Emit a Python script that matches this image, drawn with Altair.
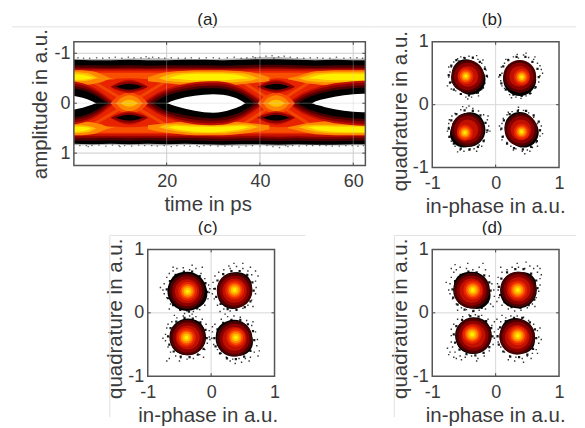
import altair as alt
import pandas as pd

FONT = "Liberation Sans"
INK = "#3a3a3a"
COL = dict(black="#000000", dark="#4a0000", maroon="#8a0000", crim="#c01000", red="#e82400",
           hot="#f85000", orange="#ff8800", amber="#ffc000", yellow="#fff000", pale="#ffff70")

# ---------- panel (a): eye diagram density contours ----------
RAIL_T = [0, 4, 8, 12, 16, 20, 24, 28, 32, 36, 40, 44, 48, 52, 56, 60, 63]
HAZE_UP = [-.89,-.885,-.89,-.895,-.90,-.895,-.89,-.885,-.89,-.90,-.92,-.925,-.90,-.89,-.895,-.89,-.895]
HAZE_UP_IN = [-.86,-.86,-.86,-.86,-.86,-.86,-.86,-.86,-.86,-.86,-.87,-.87,-.86,-.86,-.86,-.86,-.86]
HAZE_LOW_IN = [.80,.80,.80,.80,.80,.80,.80,.80,.80,.80,.80,.80,.80,.80,.80,.80,.80]
HAZE_LOW = [.835,.84,.83,.84,.84,.845,.835,.84,.85,.85,.84,.86,.84,.84,.845,.84,.845]
RAILS = [
    ("black", [-.87,-.86,-.86,-.87,-.86,-.86,-.87,-.87,-.86,-.87,-.88,-.88,-.87,-.86,-.87,-.86,-.86],
              [.81,.82,.81,.82,.81,.82,.81,.82,.83,.82,.82,.83,.82,.83,.83,.82,.82]),
    ("dark",  [-.76,-.76,-.75,-.76,-.75,-.76,-.76,-.76,-.75,-.76,-.77,-.77,-.76,-.75,-.76,-.76,-.76],
              [.75,.75,.74,.75,.74,.75,.74,.75,.76,.75,.75,.76,.75,.76,.76,.75,.75]),
    ("maroon",[-.71,-.71,-.70,-.71,-.70,-.71,-.71,-.71,-.70,-.71,-.72,-.72,-.71,-.70,-.71,-.71,-.71],
              [.70,.70,.69,.70,.69,.70,.69,.70,.71,.70,.70,.71,.70,.71,.71,.70,.70]),
    ("crim",  [-.68,-.68,-.68,-.68,-.68,-.68,-.68,-.68,-.68,-.68,-.69,-.69,-.68,-.68,-.68,-.68,-.68],
              [.66,.66,.66,.66,.66,.66,.66,.66,.67,.66,.66,.67,.66,.67,.67,.66,.66]),
    ("red",   [-.65,-.65,-.65,-.65,-.65,-.65,-.65,-.65,-.65,-.65,-.65,-.65,-.65,-.65,-.65,-.65,-.65],
              [.62,.62,.62,.62,.62,.62,.62,.62,.62,.62,.62,.62,.62,.62,.62,.62,.62]),
]
BAND_UP = [-.61,-.61,-.61,-.61,-.61,-.61,-.61,-.61,-.61,-.61,-.61,-.61,-.61,-.61,-.61,-.61,-.61]
BAND_UP_IN = [-.40,-.44,-.48,-.50,-.48,-.44,-.40,-.40,-.40,-.40,-.44,-.50,-.46,-.42,-.40,-.40,-.40]
BAND_LOW_IN = [.40,.44,.46,.48,.46,.42,.40,.40,.40,.40,.44,.48,.46,.42,.40,.40,.40]
BAND_LOW = [.59,.59,.59,.59,.59,.59,.59,.59,.59,.59,.59,.59,.59,.59,.59,.59,.59]

# faint crossing traces (time, amplitude)
TRACE_A_T = [3, 12, 21]
TRACE_B_T = [35, 43.5, 52]
TRACE_DOWN = [-.50, 0, .50]
TRACE_UP = [.50, 0, -.50]

CRES_L_T = [0, 1, 2, 3, 4, 5, 6, 7, 8, 9]
CRES_M_T = [16, 18, 20, 22, 24, 26, 28, 30, 32, 34, 36, 38, 40, 42]
CRES_R_T = [46, 48, 50, 52, 54, 56, 58, 60, 62, 63]
CRESCENTS = [
    ("orange", CRES_M_T, [-.52,-.58,-.62,-.64,-.65,-.66,-.66,-.66,-.66,-.65,-.64,-.62,-.58,-.52],
                         [-.44,-.42,-.40,-.38,-.36,-.35,-.35,-.35,-.35,-.36,-.38,-.40,-.42,-.44]),
    ("amber",  CRES_M_T, [-.50,-.50,-.56,-.60,-.61,-.62,-.62,-.62,-.62,-.61,-.60,-.56,-.50,-.50],
                         [-.50,-.50,-.45,-.43,-.42,-.42,-.42,-.42,-.42,-.42,-.43,-.45,-.50,-.50]),
    ("yellow", CRES_M_T, [-.50,-.50,-.50,-.55,-.58,-.59,-.59,-.59,-.59,-.58,-.55,-.50,-.50,-.50],
                         [-.50,-.50,-.50,-.49,-.47,-.46,-.46,-.46,-.46,-.47,-.49,-.50,-.50,-.50]),
    ("orange", CRES_M_T, [.44,.42,.40,.38,.36,.35,.35,.35,.35,.36,.38,.40,.42,.44],
                         [.52,.56,.59,.61,.63,.64,.64,.64,.64,.63,.61,.59,.56,.52]),
    ("amber",  CRES_M_T, [.48,.48,.43,.42,.43,.44,.44,.44,.44,.43,.42,.43,.48,.48],
                         [.48,.48,.52,.56,.58,.60,.60,.60,.60,.58,.56,.52,.48,.48]),
    ("yellow", CRES_M_T, [.48,.48,.48,.45,.46,.47,.47,.47,.47,.46,.45,.48,.48,.48],
                         [.48,.48,.48,.52,.55,.57,.58,.58,.57,.55,.52,.48,.48,.48]),
    ("orange", CRES_L_T, [-.66,-.66,-.66,-.65,-.64,-.62,-.58,-.54,-.50,-.48],
                         [-.35,-.35,-.36,-.37,-.38,-.40,-.42,-.46,-.48,-.48]),
    ("amber",  CRES_L_T, [-.62,-.62,-.61,-.60,-.57,-.52,-.50,-.50,-.50,-.50],
                         [-.44,-.44,-.44,-.45,-.47,-.50,-.50,-.50,-.50,-.50]),
    ("yellow", CRES_L_T, [-.58,-.58,-.57,-.55,-.52,-.50,-.50,-.50,-.50,-.50],
                         [-.47,-.47,-.47,-.48,-.50,-.50,-.50,-.50,-.50,-.50]),
    ("orange", CRES_L_T, [.35,.35,.36,.37,.38,.40,.42,.46,.48,.48],
                         [.64,.64,.64,.63,.62,.60,.56,.52,.50,.48]),
    ("amber",  CRES_L_T, [.44,.44,.44,.45,.47,.50,.50,.50,.50,.50],
                         [.60,.60,.59,.58,.55,.50,.50,.50,.50,.50]),
    ("yellow", CRES_L_T, [.47,.47,.47,.48,.50,.50,.50,.50,.50,.50],
                         [.57,.57,.56,.54,.50,.50,.50,.50,.50,.50]),
    ("orange", CRES_R_T, [-.50,-.54,-.60,-.64,-.65,-.66,-.66,-.66,-.66,-.66],
                         [-.48,-.44,-.40,-.38,-.36,-.35,-.35,-.35,-.35,-.35]),
    ("amber",  CRES_R_T, [-.50,-.50,-.55,-.60,-.61,-.62,-.62,-.62,-.62,-.62],
                         [-.50,-.50,-.45,-.43,-.42,-.42,-.42,-.42,-.42,-.42]),
    ("yellow", CRES_R_T, [-.50,-.50,-.50,-.55,-.58,-.59,-.59,-.59,-.59,-.59],
                         [-.50,-.50,-.50,-.49,-.47,-.46,-.46,-.46,-.46,-.46]),
    ("orange", CRES_R_T, [.48,.44,.40,.38,.36,.35,.35,.35,.35,.35],
                         [.50,.54,.59,.62,.63,.64,.64,.64,.64,.64]),
    ("amber",  CRES_R_T, [.48,.48,.44,.43,.43,.44,.44,.44,.44,.44],
                         [.48,.48,.53,.57,.59,.60,.60,.60,.60,.60]),
    ("yellow", CRES_R_T, [.48,.48,.48,.46,.46,.47,.47,.47,.47,.47],
                         [.48,.48,.48,.53,.56,.57,.58,.58,.58,.58]),
]

LENS_L_T = [0, 1, 2, 3, 4, 5, 6, 7, 8, 9, 10]
LENS_M_T = [15, 16, 17, 18, 19, 20, 21, 22, 24, 26, 28, 30, 32, 34, 35, 36, 37, 38, 39, 40, 41, 42]
LENS_R_T = [46, 47, 48, 49, 50, 51, 52, 53, 54, 56, 58, 60, 62, 63]
LENSES = [
    ("crim", LENS_L_T, [-.44,-.42,-.40,-.37,-.33,-.28,-.22,-.15,-.08,-.02,0], [.43,.41,.39,.36,.32,.27,.21,.14,.07,.02,0]),
    ("maroon", LENS_L_T, [-.40,-.38,-.36,-.33,-.29,-.24,-.18,-.11,-.04,0,0], [.39,.37,.35,.32,.28,.23,.17,.10,.03,0,0]),
    ("dark", LENS_L_T, [-.35,-.33,-.31,-.28,-.24,-.19,-.13,-.06,0,0,0], [.34,.32,.30,.27,.23,.18,.12,.05,0,0,0]),
    ("black", LENS_L_T, [-.30,-.28,-.26,-.23,-.19,-.14,-.08,-.02,0,0,0], [.29,.27,.25,.22,.18,.13,.07,.02,0,0,0]),
    ("white", LENS_L_T, [-.15,-.13,-.11,-.08,-.04,0,0,0,0,0,0], [.13,.11,.09,.06,.03,0,0,0,0,0,0]),
    ("crim", LENS_M_T, [-.03,-.09,-.15,-.21,-.25,-.29,-.32,-.35,-.39,-.42,-.435,-.44,-.43,-.39,-.36,-.32,-.27,-.21,-.15,-.08,-.02,0],
                       [.03,.09,.15,.21,.25,.29,.32,.35,.39,.42,.435,.44,.43,.39,.36,.32,.27,.21,.15,.08,.02,0]),
    ("maroon", LENS_M_T, [0,-.05,-.11,-.17,-.21,-.25,-.28,-.31,-.35,-.38,-.395,-.40,-.39,-.35,-.32,-.28,-.23,-.17,-.11,-.04,0,0],
                         [0,.05,.11,.17,.21,.25,.28,.31,.35,.38,.395,.40,.39,.35,.32,.28,.23,.17,.11,.04,0,0]),
    ("dark", LENS_M_T, [0,0,-.06,-.12,-.16,-.20,-.23,-.26,-.30,-.33,-.345,-.35,-.34,-.30,-.27,-.23,-.18,-.12,-.05,0,0,0],
                       [0,0,.06,.12,.16,.20,.23,.26,.30,.33,.345,.35,.34,.30,.27,.23,.18,.12,.05,0,0,0]),
    ("black", LENS_M_T, [0,0,0,-.05,-.11,-.15,-.18,-.21,-.25,-.28,-.30,-.30,-.29,-.25,-.22,-.18,-.13,-.06,0,0,0,0],
                        [0,0,0,.05,.11,.15,.18,.20,.24,.27,.29,.30,.28,.24,.21,.17,.12,.06,0,0,0,0]),
    ("white", LENS_M_T, [0,0,0,0,0,0,-.04,-.07,-.12,-.15,-.17,-.18,-.17,-.13,-.10,-.05,0,0,0,0,0,0],
                        [0,0,0,0,0,0,.03,.06,.11,.15,.18,.19,.17,.12,.09,.05,0,0,0,0,0,0]),
    ("crim", LENS_R_T, [-.02,-.08,-.14,-.20,-.24,-.28,-.31,-.34,-.36,-.40,-.42,-.44,-.45,-.45],
                       [.02,.08,.14,.20,.24,.28,.31,.34,.36,.40,.42,.44,.45,.45]),
    ("maroon", LENS_R_T, [0,-.04,-.10,-.16,-.20,-.24,-.27,-.30,-.32,-.36,-.38,-.40,-.41,-.41],
                         [0,.04,.10,.16,.20,.24,.27,.30,.32,.36,.38,.40,.41,.41]),
    ("dark", LENS_R_T, [0,0,-.05,-.11,-.15,-.19,-.22,-.25,-.27,-.31,-.33,-.35,-.36,-.36],
                       [0,0,.05,.11,.15,.19,.22,.25,.27,.31,.33,.35,.36,.36]),
    ("black", LENS_R_T, [0,0,0,-.05,-.10,-.14,-.17,-.20,-.22,-.26,-.28,-.30,-.31,-.31],
                        [0,0,0,.05,.10,.14,.17,.20,.22,.26,.28,.30,.31,.31]),
    ("white", LENS_R_T, [0,0,0,0,0,0,-.04,-.07,-.09,-.13,-.16,-.18,-.19,-.19],
                        [0,0,0,0,0,0,.03,.05,.08,.12,.15,.17,.18,.18]),
]

CROSS_A_T = [8, 9, 10, 11, 12, 13, 14, 15, 16]
CROSS_B_T = [39.5, 40.5, 41.5, 42.5, 43.5, 44.5, 45.5, 46.5, 47.5]
DIAMONDS = [
    ("hot", CROSS_A_T, [0,-.10,-.16,-.20,-.22,-.20,-.16,-.10,0], [0,.10,.16,.20,.22,.20,.16,.10,0]),
    ("orange", CROSS_A_T, [0,0,-.09,-.14,-.16,-.14,-.09,0,0], [0,0,.09,.14,.16,.14,.09,0,0]),
    ("amber", CROSS_A_T, [0,0,0,-.05,-.07,-.05,0,0,0], [0,0,0,.05,.07,.05,0,0,0]),
    ("hot", CROSS_B_T, [0,-.10,-.16,-.20,-.22,-.20,-.16,-.10,0], [0,.10,.16,.20,.22,.20,.16,.10,0]),
    ("orange", CROSS_B_T, [0,0,-.09,-.14,-.16,-.14,-.09,0,0], [0,0,.09,.14,.16,.14,.09,0,0]),
    ("amber", CROSS_B_T, [0,0,0,-.05,-.07,-.05,0,0,0], [0,0,0,.05,.07,.05,0,0,0]),
    ("crim", CROSS_A_T, [-.33,-.39,-.43,-.46,-.47,-.46,-.43,-.39,-.33], [-.33,-.27,-.24,-.21,-.20,-.21,-.24,-.27,-.33]),
    ("maroon", CROSS_A_T, [-.33,-.37,-.41,-.43,-.44,-.43,-.41,-.37,-.33], [-.33,-.29,-.26,-.24,-.23,-.24,-.26,-.29,-.33]),
    ("black", CROSS_A_T, [-.33,-.33,-.36,-.38,-.39,-.38,-.36,-.33,-.33], [-.33,-.33,-.30,-.28,-.27,-.28,-.30,-.33,-.33]),
    ("crim", CROSS_A_T, [.29,.23,.20,.17,.16,.17,.20,.23,.29], [.29,.35,.39,.42,.43,.42,.39,.35,.29]),
    ("maroon", CROSS_A_T, [.29,.25,.22,.20,.19,.20,.22,.25,.29], [.29,.33,.37,.39,.40,.39,.37,.33,.29]),
    ("black", CROSS_A_T, [.29,.29,.26,.24,.23,.24,.26,.29,.29], [.29,.29,.32,.34,.35,.34,.32,.29,.29]),
    ("crim", CROSS_B_T, [-.33,-.39,-.43,-.46,-.47,-.46,-.43,-.39,-.33], [-.33,-.27,-.24,-.21,-.20,-.21,-.24,-.27,-.33]),
    ("maroon", CROSS_B_T, [-.33,-.37,-.41,-.43,-.44,-.43,-.41,-.37,-.33], [-.33,-.29,-.26,-.24,-.23,-.24,-.26,-.29,-.33]),
    ("black", CROSS_B_T, [-.33,-.33,-.36,-.38,-.39,-.38,-.36,-.33,-.33], [-.33,-.33,-.30,-.28,-.27,-.28,-.30,-.33,-.33]),
    ("crim", CROSS_B_T, [.29,.23,.20,.17,.16,.17,.20,.23,.29], [.29,.35,.39,.42,.43,.42,.39,.35,.29]),
    ("maroon", CROSS_B_T, [.29,.25,.22,.20,.19,.20,.22,.25,.29], [.29,.33,.37,.39,.40,.39,.37,.33,.29]),
    ("black", CROSS_B_T, [.29,.29,.26,.24,.23,.24,.26,.29,.29], [.29,.29,.32,.34,.35,.34,.32,.29,.29]),
]

SPECK_A = [
 (1,-.91),(2.2,-.90),(3.5,-.90),(5,-.91),(6.3,-.90),(7.7,-.91),(9,-.92),(10.4,-.90),(11.8,-.92),(13,-.91),(14.5,-.91),(15.6,-.93),
 (17,-.92),(18.3,-.91),(19.6,-.90),(21,-.91),(22.5,-.90),(24,-.90),(25.3,-.91),(27,-.90),(28.5,-.91),(30,-.91),(31.3,-.90),(33,-.91),
 (34.5,-.92),(36,-.90),(37.2,-.91),(38.5,-.93),(40,-.92),(41.3,-.94),(42.6,-.95),(44,-.93),(45.2,-.94),(46.5,-.92),(48,-.91),(49.4,-.90),
 (50.8,-.91),(52.3,-.91),(53.5,-.90),(55,-.90),(56.4,-.92),(58,-.90),(59.4,-.91),(60.8,-.91),(62,-.90),(16.2,-.90),(43,-.90),(39,-.91),
 (1.4,.85),(2.8,.85),(4,.85),(5.5,.84),(7,.86),(8.4,.84),(9.8,.85),(11,.85),(12.5,.86),(14,.84),(15.3,.85),(16.8,.85),(18,.86),(19.5,.85),
 (21,.87),(22.2,.85),(23.8,.85),(25,.86),(26.5,.85),(28,.85),(29.4,.85),(31,.86),(32.5,.86),(34,.86),(35.5,.88),(37,.86),(38.4,.85),
 (40,.86),(41.5,.85),(42.8,.87),(44.2,.89),(45.5,.85),(47,.85),(48.4,.86),(50,.85),(51.3,.85),(52.8,.85),(54.2,.85),(55.5,.86),
 (57,.86),(58.4,.85),(59.8,.85),(61,.86),(62.2,.85),(3.2,.87),(27,.87),(46,.87),(10,.87),
]

# ---------- panels (b)-(d): constellation clusters ----------
RING_LEVELS = ["dark", "maroon", "crim", "red", "hot", "orange", "amber", "yellow"]
RING_RADII_B = [.26, .215, .165, .125, .095, .07, .045, .022]
RING_RADII_C = [.28, .235, .19, .15, .115, .09, .06, .03]
RING_RADII_D = [.28, .235, .19, .15, .115, .09, .06, .03]

CORES_B = [(-.47,.455), (.41,.44), (-.485,-.445), (.41,-.43)]
CORES_C = [(-.37,.34), (.37,.36), (-.39,-.39), (.39,-.39)]
CORES_D = [(-.36,.36), (.35,.36), (-.37,-.34), (.35,-.36)]
# centres of the outer dark rings of each cluster
HALOS_B = [(-.44,.45), (.38,.45), (-.44,-.40), (.40,-.40)]
HALOS_C = [(-.38,.34), (.37,.35), (-.37,-.39), (.37,-.41)]
HALOS_D = [(-.38,.35), (.36,.37), (-.35,-.36), (.34,-.38)]

BLOBS_B = [(-.47,.50,.22),(-.40,.40,.24),(-.50,.42,.20),
           (.38,.50,.20),(.38,.40,.26),(.30,.42,.18),
           (-.43,-.40,.27),(-.50,-.46,.22),(-.40,-.34,.22),
           (.38,-.36,.24),(.44,-.44,.24),(.36,-.44,.20)]
BLOBS_C = [(-.38,.34,.31),(-.44,.42,.22),(-.30,.30,.24),
           (.37,.36,.28),(.34,.30,.24),(.42,.42,.22),
           (-.37,-.38,.29),(-.42,-.44,.22),(-.32,-.32,.22),
           (.36,-.40,.29),(.44,-.46,.22),(.28,-.34,.20)]
BLOBS_D = [(-.38,.36,.29),(-.44,.42,.22),(-.30,.28,.22),
           (.36,.36,.29),(.44,.44,.20),(.30,.30,.22),
           (-.35,-.36,.29),(-.40,-.42,.22),(-.30,-.30,.22),
           (.34,-.37,.28),(.42,-.44,.20),(.30,-.30,.22)]

EDGE_B = [
 (-.14,.46),(-.17,.57),(-.25,.68),(-.36,.75),(-.49,.74),(-.62,.71),(-.70,.62),(-.74,.47),(-.72,.35),(-.66,.24),(-.55,.17),(-.42,.15),(-.28,.19),(-.20,.27),
 (.68,.44),(.66,.57),(.58,.68),(.47,.76),(.33,.76),(.20,.71),(.12,.61),(.07,.47),(.09,.34),(.16,.24),(.28,.16),(.41,.14),(.54,.18),(.63,.28),
 (-.13,-.41),(-.16,-.29),(-.24,-.17),(-.36,-.10),(-.49,-.09),(-.62,-.15),(-.70,-.25),(-.74,-.38),(-.73,-.51),(-.66,-.62),(-.55,-.70),(-.41,-.71),(-.28,-.67),(-.19,-.58),
 (.70,-.41),(.68,-.27),(.60,-.17),(.48,-.10),(.35,-.10),(.22,-.15),(.13,-.25),(.09,-.38),(.11,-.51),(.18,-.62),(.29,-.69),(.43,-.71),(.56,-.67),(.65,-.58),
]
EDGE_C = [
 (-.06,.33),(-.09,.47),(-.18,.58),(-.30,.65),(-.43,.65),(-.56,.60),(-.65,.50),(-.70,.37),(-.68,.23),(-.60,.12),(-.49,.05),(-.35,.02),(-.22,.07),(-.13,.16),
 (.67,.35),(.65,.48),(.57,.60),(.45,.66),(.32,.66),(.19,.61),(.10,.51),(.06,.38),(.08,.25),(.15,.14),(.26,.06),(.40,.05),(.53,.09),(.62,.18),
 (-.07,-.40),(-.09,-.27),(-.17,-.15),(-.29,-.09),(-.42,-.08),(-.55,-.14),(-.64,-.24),(-.68,-.37),(-.66,-.50),(-.59,-.61),(-.48,-.69),(-.34,-.70),(-.21,-.66),(-.12,-.57),
 (.68,-.43),(.66,-.29),(.58,-.18),(.46,-.11),(.32,-.11),(.19,-.16),(.10,-.26),(.05,-.40),(.07,-.53),(.14,-.64),(.25,-.72),(.39,-.73),(.52,-.69),(.62,-.60),
]
EDGE_D = [
 (-.08,.35),(-.10,.48),(-.18,.59),(-.30,.64),(-.43,.65),(-.55,.60),(-.64,.50),(-.68,.37),(-.67,.24),(-.60,.13),(-.49,.05),(-.35,.03),(-.22,.08),(-.13,.17),
 (.66,.39),(.64,.51),(.56,.62),(.44,.69),(.31,.69),(.18,.64),(.09,.54),(.05,.41),(.07,.28),(.14,.17),(.25,.09),(.39,.08),(.52,.12),(.61,.21),
 (-.05,-.37),(-.07,-.24),(-.15,-.13),(-.27,-.06),(-.40,-.05),(-.53,-.11),(-.62,-.21),(-.66,-.34),(-.64,-.47),(-.57,-.58),(-.46,-.65),(-.32,-.67),(-.19,-.63),(-.10,-.54),
 (.64,-.40),(.62,-.26),(.54,-.15),(.42,-.08),(.29,-.08),(.16,-.13),(.07,-.23),(.03,-.37),(.05,-.50),(.12,-.61),(.23,-.69),(.37,-.70),(.50,-.66),(.59,-.57),
]

SPECK_B = [
 (-.76,.30),(-.74,.44),(-.72,.52),(-.70,.60),(-.66,.68),(-.60,.73),(-.55,.76),(-.50,.75),(-.42,.77),(-.36,.74),(-.28,.72),(-.22,.66),(-.15,.55),(-.13,.44),(-.17,.34),(-.22,.24),(-.30,.18),(-.38,.12),(-.47,.12),(-.55,.17),(-.63,.22),(-.70,.36),(-.74,.60),(-.30,.78),(-.17,.60),
 (-.58,.70),(-.20,.71),(-.27,.14),(-.44,.09),(-.70,.25),
 (.08,.38),(.10,.50),(.09,.60),(.14,.66),(.20,.72),(.28,.76),(.36,.74),(.44,.79),(.52,.75),(.60,.72),(.66,.66),(.72,.56),(.70,.46),(.68,.36),(.62,.26),(.56,.18),(.48,.14),(.40,.10),(.32,.12),(.22,.16),(.14,.26),(.10,.30),(.74,.50),(.48,.82),(.62,.76),
 (.05,.44),(.25,.11),(.70,.62),(.16,.72),(.34,.80),
 (-.73,-.24),(-.74,-.36),(-.72,-.50),(-.70,-.58),(-.64,-.66),(-.56,-.72),(-.50,-.74),(-.42,-.72),(-.34,-.70),(-.26,-.64),(-.18,-.56),(-.14,-.44),(-.11,-.34),(-.13,-.24),(-.19,-.16),(-.27,-.10),(-.36,-.06),(-.46,-.05),(-.55,-.08),(-.64,-.14),(-.69,-.18),(-.76,-.42),(-.60,-.75),(-.22,-.66),
 (-.09,-.42),(-.42,-.02),(-.30,-.74),(-.74,-.30),(-.12,-.18),(-.52,-.03),
 (.10,-.30),(.08,-.40),(.12,-.50),(.18,-.60),(.24,-.66),(.32,-.70),(.42,-.74),(.50,-.72),(.58,-.68),(.64,-.60),(.70,-.50),(.70,-.40),(.66,-.30),(.60,-.20),(.52,-.13),(.44,-.09),(.36,-.08),(.26,-.11),(.18,-.16),(.12,-.22),(.74,-.46),(.46,-.78),(.28,-.72),(.66,-.66),
 (.06,-.34),(.36,-.04),(.72,-.34),(.10,-.56),(.54,-.74),(.20,-.12),
]
SPECK_C = [
 (-.76,.36),(-.74,.46),(-.70,.56),(-.66,.62),(-.60,.66),(-.54,.70),(-.44,.71),(-.34,.68),(-.24,.70),(-.16,.62),(-.10,.54),(-.04,.44),(-.03,.32),(-.05,.22),(-.10,.12),(-.18,.05),(-.28,0.02),(-.38,.03),(-.48,.04),(-.56,.10),(-.64,.14),(-.70,.24),(-.74,.30),(-.60,.72),(-.30,.75),
 (-.80,.40),(-.14,.72),(-.02,.38),(-.42,-.01),(-.66,.06),
 (.04,.38),(.03,.48),(.06,.58),(.12,.64),(.20,.68),(.30,.70),(.40,.73),(.50,.70),(.58,.66),(.64,.60),(.70,.50),(.71,.40),(.70,.30),(.64,.20),(.58,.12),(.50,.07),(.40,.04),(.30,.03),(.20,.06),(.10,.12),(.05,.22),(.62,.72),(.74,.58),(.36,.78),(.50,.78),
 (.70,.66),(.02,.30),(.28,.74),(.66,.10),(.14,.02),
 (-.70,-.24),(-.72,-.34),(-.72,-.44),(-.68,-.54),(-.64,-.62),(-.56,-.68),(-.48,-.71),(-.38,-.73),(-.28,-.72),(-.18,-.66),(-.10,-.58),(-.06,-.48),(-.03,-.38),(-.03,-.28),(-.08,-.18),(-.14,-.10),(-.24,-.06),(-.34,-.05),(-.44,-.05),(-.54,-.08),(-.62,-.14),(-.68,-.18),(-.66,-.72),(-.50,-.76),(-.70,-.76),
 (-.76,-.40),(-.02,-.42),(-.30,-.02),(-.12,-.70),(-.58,-.04),
 (.02,-.30),(.01,-.40),(.04,-.50),(.10,-.58),(.16,-.64),(.24,-.70),(.34,-.73),(.44,-.72),(.54,-.72),(.62,-.70),(.68,-.62),(.72,-.52),(.73,-.42),(.70,-.30),(.64,-.20),(.56,-.12),(.46,-.07),(.36,-.05),(.26,-.06),(.16,-.10),(.06,-.18),(.60,-.76),(.74,-.68),(.38,-.80),(.30,-.76),
 (.76,-.60),(.02,-.22),(.22,-.02),(.66,-.14),(.48,-.78),
]
SPECK_D = [
 (-.74,.36),(-.72,.46),(-.70,.56),(-.66,.64),(-.62,.68),(-.56,.72),(-.46,.70),(-.36,.68),(-.26,.72),(-.16,.68),(-.10,.58),(-.06,.46),(-.03,.36),(-.02,.26),(-.08,.14),(-.16,.06),(-.26,.04),(-.36,.02),(-.46,.05),(-.54,.08),(-.62,.14),(-.68,.22),(-.72,.30),(-.64,.76),(-.44,.78),
 (-.78,.48),(-.70,.70),(-.20,.78),(-.04,.10),(-.60,.04),
 (.04,.36),(.03,.46),(.04,.56),(.10,.64),(.18,.68),(.26,.72),(.36,.72),(.46,.70),(.54,.74),(.60,.70),(.66,.64),(.70,.54),(.70,.44),(.68,.34),(.64,.24),(.58,.14),(.50,.08),(.40,.04),(.30,.03),(.20,.06),(.10,.12),(.05,.24),(.66,.74),(.34,.78),(.70,.70),
 (.72,.60),(.02,.18),(.48,.80),(.62,.10),(.08,.72),
 (-.70,-.26),(-.70,-.36),(-.70,-.46),(-.68,-.54),(-.64,-.62),(-.56,-.68),(-.48,-.70),(-.38,-.68),(-.28,-.72),(-.18,-.68),(-.10,-.60),(-.04,-.50),(-.02,-.40),(-.02,-.30),(-.06,-.20),(-.12,-.10),(-.22,-.04),(-.32,-.03),(-.42,-.03),(-.52,-.06),(-.60,-.10),(-.66,-.18),(-.72,-.62),(-.62,-.72),(-.76,-.56),
 (-.30,-.76),(-.74,-.66),(-.02,-.14),(-.66,-.70),(-.54,-.74),
 (.04,-.26),(.03,-.36),(.04,-.46),(.08,-.54),(.14,-.62),(.22,-.68),(.32,-.70),(.42,-.72),(.50,-.68),(.58,-.64),(.64,-.58),(.68,-.48),(.68,-.38),(.66,-.28),(.60,-.18),(.52,-.12),(.44,-.07),(.34,-.05),(.24,-.05),(.16,-.08),(.08,-.14),(.30,-.76),(.44,-.78),(.66,-.64),(.02,-.10),
 (.72,-.42),(.56,-.72),(.20,-.74),(.70,-.24),(.10,-.04),
]

# ---------- layout (px) ----------
W_A, H_A = 292, 124
W_B, H_B = 127, 126
W_C, H_C = 127, 127

AX = {}


def sx(dom):
    return alt.Scale(domain=dom, nice=False, zero=False)


def axes(xvals, yvals, xtitle, ytitle, xt, yt, ytx, labelExpr="'' + datum.value"):
    x_ax = alt.Axis(values=xvals, title=xtitle, domain=False, ticks=False, grid=False, labelFont=FONT,
                    labelFontSize=18, labelColor=INK, labelPadding=7, labelExpr=labelExpr, labelFlush=False,
                    labelOverlap=False, titleFont=FONT, titleFontSize=20.5, titleFontWeight="normal",
                    titleColor=INK, titleX=xt[0], titleY=xt[1], titleBaseline="middle", titleAlign="center")
    y_ax = alt.Axis(values=yvals, title=ytitle, domain=False, ticks=False, grid=False, labelFont=FONT,
                    labelFontSize=18, labelColor=INK, labelPadding=4, labelExpr=labelExpr, labelFlush=False,
                    labelOverlap=False, titleFont=FONT, titleFontSize=20.5, titleFontWeight="normal",
                    titleColor=INK, titleX=ytx, titleY=yt, titleBaseline="middle", titleAlign="center", titleAngle=270)
    return x_ax, y_ax


def ex(field, X):
    return alt.X(field, scale=X, axis=AX["x"])


def ey(field, Y):
    return alt.Y(field, scale=Y, axis=AX["y"])


def band(level, ts, up, low, X, Y, color=None, op=1):
    df = pd.DataFrame({"t": ts, "a": up, "b": low})
    return alt.Chart(df).mark_area(color=color or COL.get(level, "#ffffff"), interpolate="monotone", clip=True, opacity=op).encode(
        x=ex("t:Q", X), y=ey("a:Q", Y), y2="b:Q")


def trace(ts, amps, X, Y):
    df = pd.DataFrame({"t": ts, "a": amps})
    return alt.Chart(df).mark_line(color="#ff7000", strokeWidth=3, opacity=.45, clip=True).encode(x=ex("t:Q", X), y=ey("a:Q", Y))


def rules_v(vals, X, color, op):
    return alt.Chart(pd.DataFrame({"v": vals})).mark_rule(color=color, opacity=op, strokeWidth=1).encode(x=ex("v:Q", X))


def rules_h(vals, Y, color, op):
    return alt.Chart(pd.DataFrame({"v": vals})).mark_rule(color=color, opacity=op, strokeWidth=1).encode(y=ey("v:Q", Y))


def stubs(xvals, yvals, X, Y, w, h):
    stub = []
    for v in xvals:
        d = pd.DataFrame({"v": [v]})
        stub.append(alt.Chart(d).mark_rule(color="#444", strokeWidth=1).encode(x=ex("v:Q", X), y=alt.value(0), y2=alt.value(3)))
        stub.append(alt.Chart(d).mark_rule(color="#444", strokeWidth=1).encode(x=ex("v:Q", X), y=alt.value(h - 3), y2=alt.value(h)))
    for v in yvals:
        d = pd.DataFrame({"v": [v]})
        stub.append(alt.Chart(d).mark_rule(color="#444", strokeWidth=1).encode(y=ey("v:Q", Y), x=alt.value(0), x2=alt.value(3)))
        stub.append(alt.Chart(d).mark_rule(color="#444", strokeWidth=1).encode(y=ey("v:Q", Y), x=alt.value(w - 3), x2=alt.value(w)))
    return stub


def frame(w, h):
    return alt.Chart(pd.DataFrame({"k": [0]})).mark_rect(filled=False, stroke="#555555", strokeWidth=1.5).encode(
        x=alt.value(0), x2=alt.value(w), y=alt.value(0), y2=alt.value(h))


def label(text, px, py):
    return alt.Chart(pd.DataFrame({"s": [text]})).mark_text(font=FONT, fontSize=17, color="#222222", baseline="middle", align="center").encode(
        text="s:N", x=alt.value(px), y=alt.value(py))


def hline(x1, x2, y):
    return alt.Chart(pd.DataFrame({"k": [0]})).mark_rule(color="#e2e2e2", strokeWidth=1).encode(
        x=alt.value(x1), x2=alt.value(x2), y=alt.value(y))


def vline(x, y1, y2):
    return alt.Chart(pd.DataFrame({"k": [0]})).mark_rule(color="#e2e2e2", strokeWidth=1).encode(
        y=alt.value(y1), y2=alt.value(y2), x=alt.value(x))


def panel_eye():
    X = sx([0.12, 62.6])
    Y = sx([1.25, -1.23])
    AX["x"], AX["y"] = axes([20, 40, 60], [-1, 0, 1], "time in ps", "amplitude in a.u.", (134, 39), 62, -33)
    layers = [rules_v([20, 40, 60], X, "#d8d8d8", 1), rules_h([-1, 0, 1], Y, "#d8d8d8", 1)]
    layers.append(band("haze", RAIL_T, HAZE_UP, HAZE_UP_IN, X, Y, "#777777", .55))
    layers.append(band("haze", RAIL_T, HAZE_LOW_IN, HAZE_LOW, X, Y, "#777777", .55))
    sp = pd.DataFrame(SPECK_A, columns=["t", "a"])
    layers.append(alt.Chart(sp).mark_square(size=2, color="#333333", opacity=.7, clip=True).encode(x=ex("t:Q", X), y=ey("a:Q", Y)))
    for lev, up, low in RAILS:
        layers.append(band(lev, RAIL_T, up, low, X, Y))
    layers.append(band("hot", RAIL_T, BAND_UP, BAND_UP_IN, X, Y))
    layers.append(band("hot", RAIL_T, BAND_LOW_IN, BAND_LOW, X, Y))
    for ts in (TRACE_A_T, TRACE_B_T):
        layers.append(trace(ts, TRACE_DOWN, X, Y))
        layers.append(trace(ts, TRACE_UP, X, Y))
    for lev, ts, up, low in CRESCENTS:
        layers.append(band(lev, ts, up, low, X, Y))
    for lev, ts, up, low in LENSES:
        layers.append(band(lev, ts, up, low, X, Y))
    for lev, ts, up, low in DIAMONDS:
        layers.append(band(lev, ts, up, low, X, Y))
    layers += [rules_v([20, 40, 60], X, "#c8c8c8", .35), rules_h([-1, 0, 1], Y, "#c8c8c8", .35)]
    layers += stubs([20, 40, 60], [-1, 0, 1], X, Y, W_A, H_A)
    layers += [frame(W_A, H_A), label("(a)", 134, -22), hline(-62, 302, -15)]
    return alt.layer(*layers).properties(width=W_A, height=H_A)


def panel_iq(cores, halos, blobs, radii, edge, specks, w, h, letter, xt, yt, ytx, title_xy, extras):
    X = sx([-1, 1])
    Y = sx([-1, 1])
    AX["x"], AX["y"] = axes([-1, 0, 1], [-1, 0, 1], "in-phase in a.u.", "quadrature in a.u.", xt, yt, ytx)
    rscale = alt.Scale(type="pow", exponent=2, domain=[0, 1], range=[0, float(w * w)])
    layers = [rules_v([0], X, "#d8d8d8", 1), rules_h([0], Y, "#d8d8d8", 1)]
    sp = pd.DataFrame(specks, columns=["t", "a"])
    layers.append(alt.Chart(sp).mark_square(size=2, color="#111111", opacity=.85, clip=True).encode(x=ex("t:Q", X), y=ey("a:Q", Y)))
    ed = pd.DataFrame(edge, columns=["t", "a"])
    layers.append(alt.Chart(ed).mark_square(size=5, color="#000000", opacity=.9, clip=True).encode(x=ex("t:Q", X), y=ey("a:Q", Y)))
    bl = pd.DataFrame(blobs, columns=["t", "a", "r"])
    layers.append(alt.Chart(bl).mark_circle(color="#000000", opacity=1, clip=True).encode(
        x=ex("t:Q", X), y=ey("a:Q", Y), size=alt.Size("r:Q", scale=rscale, legend=None)))
    for i, (lev, r) in enumerate(zip(RING_LEVELS, radii)):
        centers = halos if i < 3 else cores
        d = pd.DataFrame({"t": [c[0] for c in centers], "a": [c[1] for c in centers], "r": [r] * len(centers)})
        layers.append(alt.Chart(d).mark_circle(color=COL[lev], opacity=1, clip=True).encode(
            x=ex("t:Q", X), y=ey("a:Q", Y), size=alt.Size("r:Q", scale=rscale, legend=None)))
    layers += stubs([0], [0], X, Y, w, h)
    layers += [frame(w, h), label(letter, title_xy[0], title_xy[1])] + extras
    return alt.layer(*layers).properties(width=w, height=h)


a = panel_eye()
b = panel_iq(CORES_B, HALOS_B, BLOBS_B, RING_RADII_B, EDGE_B, SPECK_B, W_B, H_B, "(b)", (63, 39), 69, -32, (60, -22), [hline(-57, 144, -15)])
c = panel_iq(CORES_C, HALOS_C, BLOBS_C, RING_RADII_C, EDGE_C, SPECK_C, W_C, H_C, "(c)", (60, 39), 69, -32, (60, -21), [hline(-38, 158, -14), vline(-38, -14, 168)])
d = panel_iq(CORES_D, HALOS_D, BLOBS_D, RING_RADII_D, EDGE_D, SPECK_D, W_C, H_C, "(d)", (63, 39), 69, -32, (60, -21), [hline(-38, 144, -14), vline(-38, -14, 168)])


def gap(w, h):
    return alt.Chart(pd.DataFrame({"k": [0]})).mark_point(opacity=0).encode(x=alt.value(0), y=alt.value(0)).properties(width=w, height=h)


row1 = alt.hconcat(a, b, spacing=67, bounds="flush")
row2 = alt.hconcat(gap(24, 127), alt.hconcat(c, d, spacing=158, bounds="flush"), spacing=50, bounds="flush")
chart = alt.vconcat(row1, row2, spacing=2).properties(
    padding={"left": 3, "top": 2.5, "right": 0, "bottom": 0}
).configure_view(stroke=None)

chart.save("out.html", embed_options={"renderer": "svg", "actions": False})
